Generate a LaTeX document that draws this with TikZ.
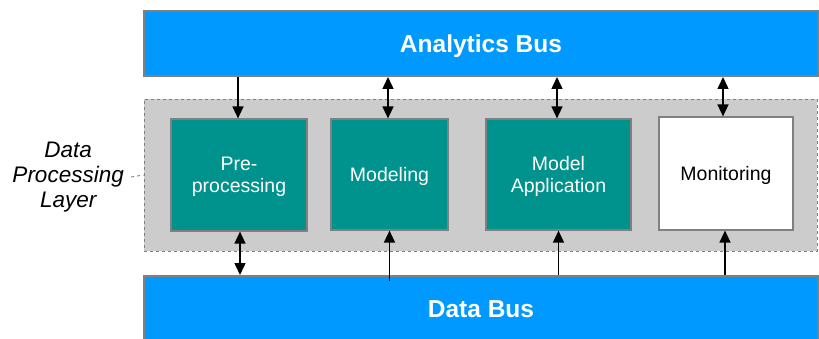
\documentclass[tikz,border=0pt]{standalone}
\usepackage{fontspec}
\setmainfont{Liberation Sans}
\usepackage{tikz}
\usetikzlibrary{arrows.meta}
\usetikzlibrary{positioning}
\definecolor{busblue}{RGB}{0,153,255}
\definecolor{modteal}{RGB}{0,146,141}
\definecolor{layergray}{RGB}{204,204,204}
\definecolor{edgegray}{RGB}{128,128,128}
\tikzset{
  bus/.style = {rectangle, draw=edgegray, line width=2pt, fill=busblue,
    text=white, font=\fontsize{24.5}{28}\selectfont\bfseries,
    minimum width=674pt, inner sep=0pt, text depth=0pt},
  layer/.style = {rectangle, draw=edgegray, dashed, line width=0.9pt,
    fill=layergray, inner sep=0pt},
  module/.style = {rectangle, draw=edgegray, line width=1.2pt, fill=modteal,
    text=white, align=center, inner sep=0pt, text depth=0pt,
    font=\fontsize{19.5}{22.5}\selectfont},% bloc de traitement
  monbox/.style = {module, fill=white, text=black},
  link/.style = {line width=1.5pt, >={Triangle[width=11pt,length=12pt]}}
}
\begin{document}
\begin{tikzpicture}[x=1pt,y=-1pt]
\useasboundingbox (0,0) rectangle (819,339);
\clip (0,0) rectangle (819,339);
\node [bus, minimum height=65pt] (ab) at (481,43.5) {Analytics Bus};
\node [bus, minimum height=66pt] (db) at (481,309) {Data Bus};
\node [layer, minimum width=673pt, minimum height=152pt] (dpl) at (480.5,175) {};

\node [module, minimum width=136pt, minimum height=112pt] (pre) at (239,175) {Pre-\\processing};
\node [module, minimum width=117pt, minimum height=111pt] (mod) at (389.5,174.5) {Modeling};
\node [module, minimum width=145pt, minimum height=111pt] (app) at (558.5,174.5) {Model\\Application};
\node [monbox, minimum width=134pt, minimum height=113pt] (mon) at (726,173.5) {Monitoring};

\node [align=center, inner sep=3pt, font=\fontsize{22.5}{25}\selectfont\itshape,
  anchor=east] (lbl) at (127,177) {Data\\Processing\\Layer};
\draw [edgegray, dashed, line width=0.9pt] ([xshift=4pt]lbl.east) -- (dpl.west);

% vers le haut
\draw [link,->] ([xshift=-1pt]pre.north |- ab.south) -- ([xshift=-1pt]pre.north);
\draw [link,<->] ([xshift=-1.5pt]mod.north |- ab.south) -- ([xshift=-1.5pt]mod.north);
\draw [link,<->] ([xshift=-1.5pt]app.north |- ab.south) -- ([xshift=-1.5pt]app.north);
\draw [link,<->] ([xshift=-3pt]mon.north |- ab.south) -- ([xshift=-3pt]mon.north);
% vers le bas
\draw [link,<->] ([xshift=1pt]pre.south) -- ([xshift=1pt]pre.south |- db.north);
\draw [link,<-] (mod.south) -- ([yshift=-6pt]mod.south |- db.north);
\draw [link,<-] (app.south) -- (app.south |- db.north);
\draw [link,<-] ([xshift=-1pt]mon.south) -- ([xshift=-1pt]mon.south |- db.north);
\end{tikzpicture}
\end{document}
